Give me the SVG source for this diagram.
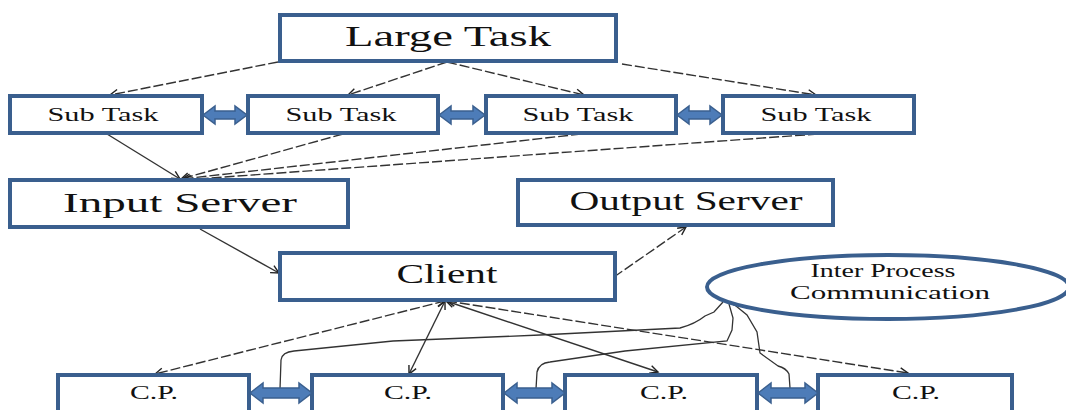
<svg xmlns="http://www.w3.org/2000/svg" width="1066" height="410" viewBox="0 0 1066 410">
<style>
.box{fill:#fff;stroke:#3a5f8e;stroke-width:4}
.t{font-family:"Liberation Serif","Times New Roman",serif;fill:#111;text-anchor:middle}
.dbl{fill:#4d7cb8;stroke:#3a5f8e;stroke-width:1.5}
.c{fill:none;stroke:#333;stroke-width:1.4}
.d{stroke-dasharray:10,3}
.ipc{fill:none;stroke:#333;stroke-width:1.3}
</style>
<defs>
<marker id="ah" markerWidth="12" markerHeight="12" refX="9" refY="5" orient="auto-start-reverse" markerUnits="userSpaceOnUse">
<path d="M1,1 L9,5 L1,9" fill="none" stroke="#222" stroke-width="1.4"/>
</marker>
</defs>
<rect width="1066" height="410" fill="#fff"/>

<g id="connectors">
<path class="c d" d="M278,62 L110,95" marker-end="url(#ah)"/>
<path class="c d" d="M447,62 L348,95" marker-end="url(#ah)"/>
<path class="c d" d="M447,62 L584,95" marker-end="url(#ah)"/>
<path class="c d" d="M622,64 L816,95" marker-end="url(#ah)"/>
<path class="c" d="M107,134 L180,179" marker-end="url(#ah)"/>
<path class="c d" d="M343,134 L181,179" marker-end="url(#ah)"/>
<path class="c d" d="M581,134 L182,179" marker-end="url(#ah)"/>
<path class="c d" d="M818,134 L183,180" marker-end="url(#ah)"/>
<path class="c" d="M200,229 L279,273" marker-end="url(#ah)"/>
<path class="c d" d="M614,277 L686,227" marker-end="url(#ah)"/>
<path class="c d" d="M445,301 L155,374" marker-start="url(#ah)" marker-end="url(#ah)"/>
<path class="c" d="M445,301 L409,374" marker-start="url(#ah)" marker-end="url(#ah)"/>
<path class="c" d="M446,301 L658,372" marker-start="url(#ah)" marker-end="url(#ah)"/>
<path class="c d" d="M447,301 L908,373" marker-start="url(#ah)" marker-end="url(#ah)"/>
<path class="ipc" d="M280,389 L281,360 Q282,352 294,351 L393,341 L540,335 L680,328 Q695,324 705,316 L714,312 L723,302"/>
<path class="ipc" d="M536,389 L537,372 Q539,363 550,362 L625,351 L727,341 L732,330 L733,318 L729,304"/>
<path class="ipc" d="M790,388 L789,374 Q786,368 778,366 L760,353 L757,332 L747,315 L736,306 L728,302"/>
</g>

<g id="large-task">
<rect class="box" x="280" y="15" width="336" height="46"/>
<text class="t" x="448" y="46" font-size="30" textLength="206" lengthAdjust="spacingAndGlyphs">Large Task</text>
</g>

<g id="sub-task-1">
<rect class="box" x="10" y="96" width="192" height="37"/>
<text class="t" x="103" y="121" font-size="19" textLength="111" lengthAdjust="spacingAndGlyphs">Sub Task</text>
</g>
<g id="sub-task-2">
<rect class="box" x="248" y="96" width="190" height="37"/>
<text class="t" x="341" y="121" font-size="19" textLength="111" lengthAdjust="spacingAndGlyphs">Sub Task</text>
</g>
<g id="sub-task-3">
<rect class="box" x="486" y="96" width="190" height="37"/>
<text class="t" x="578" y="121" font-size="19" textLength="111" lengthAdjust="spacingAndGlyphs">Sub Task</text>
</g>
<g id="sub-task-4">
<rect class="box" x="723" y="96" width="191" height="37"/>
<text class="t" x="816" y="121" font-size="19" textLength="111" lengthAdjust="spacingAndGlyphs">Sub Task</text>
</g>

<g id="subtask-links">
<path class="dbl" d="M203,115 L215,106 L215,111 L235,111 L235,106 L247,115 L235,124 L235,119 L215,119 L215,124 Z"/>
<path class="dbl" d="M439,115 L451,106 L451,111 L473,111 L473,106 L485,115 L473,124 L473,119 L451,119 L451,124 Z"/>
<path class="dbl" d="M677,115 L689,106 L689,111 L710,111 L710,106 L722,115 L710,124 L710,119 L689,119 L689,124 Z"/>
</g>

<g id="input-server">
<rect class="box" x="10" y="180" width="338" height="47"/>
<text class="t" x="180" y="212" font-size="28" textLength="234" lengthAdjust="spacingAndGlyphs">Input Server</text>
</g>
<g id="output-server">
<rect class="box" x="518" y="180" width="315" height="45"/>
<text class="t" x="686" y="210" font-size="28" textLength="233" lengthAdjust="spacingAndGlyphs">Output Server</text>
</g>
<g id="client">
<rect class="box" x="280" y="253" width="335" height="47"/>
<text class="t" x="447" y="283" font-size="28" textLength="101" lengthAdjust="spacingAndGlyphs">Client</text>
</g>
<g id="ipc">
<ellipse cx="888" cy="287" rx="181" ry="32" fill="#fff" stroke="#3a5f8e" stroke-width="4"/>
<text class="t" x="883" y="277" font-size="18" textLength="145" lengthAdjust="spacingAndGlyphs">Inter Process</text>
<text class="t" x="890" y="299" font-size="18" textLength="200" lengthAdjust="spacingAndGlyphs">Communication</text>
</g>

<g id="cp-1">
<rect class="box" x="58" y="375" width="191" height="45"/>
<text class="t" x="154" y="399" font-size="18" textLength="48" lengthAdjust="spacingAndGlyphs">C.P.</text>
</g>
<g id="cp-2">
<rect class="box" x="312" y="375" width="191" height="45"/>
<text class="t" x="408" y="399" font-size="18" textLength="48" lengthAdjust="spacingAndGlyphs">C.P.</text>
</g>
<g id="cp-3">
<rect class="box" x="565" y="375" width="192" height="45"/>
<text class="t" x="664" y="399" font-size="18" textLength="48" lengthAdjust="spacingAndGlyphs">C.P.</text>
</g>
<g id="cp-4">
<rect class="box" x="818" y="375" width="194" height="45"/>
<text class="t" x="916" y="399" font-size="18" textLength="48" lengthAdjust="spacingAndGlyphs">C.P.</text>
</g>

<g id="cp-links">
<path class="dbl" d="M250,393 L263,383 L263,388 L299,388 L299,383 L312,393 L299,403 L299,398 L263,398 L263,403 Z"/>
<path class="dbl" d="M504,393 L517,383 L517,388 L552,388 L552,383 L565,393 L552,403 L552,398 L517,398 L517,403 Z"/>
<path class="dbl" d="M758,393 L771,383 L771,388 L805,388 L805,383 L818,393 L805,403 L805,398 L771,398 L771,403 Z"/>
</g>
</svg>
